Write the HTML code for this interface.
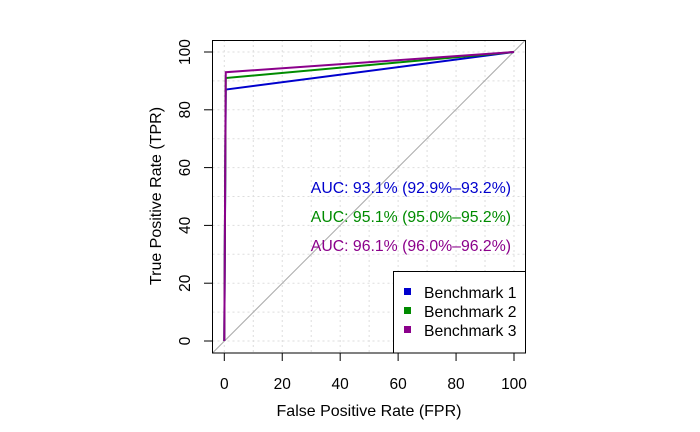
<!DOCTYPE html>
<html><head><meta charset="utf-8"><style>
body{margin:0;background:#fff;}
svg{display:block;font-family:"Liberation Sans",sans-serif;}
</style></head><body>
<svg width="700" height="432" viewBox="0 0 700 432">
<g id="grid"></g>
<line x1="212.5" y1="353" x2="525.5" y2="40" stroke="#aaa" stroke-width="1"/>
<g id="series"></g>
<rect x="212.5" y="40.5" width="313" height="312.5" fill="none" stroke="#000"/>
<g id="axes"></g>
<g id="auc"></g>
<g>
<rect x="393.5" y="271.5" width="132" height="81.5" fill="#fff" stroke="#000"/>
<g id="legend"></g>
</g>
<text x="369" y="416" font-size="16" text-anchor="middle">False Positive Rate (FPR)</text>
<text transform="translate(161,196) rotate(-90)" font-size="16" text-anchor="middle">True Positive Rate (TPR)</text>
</svg>
<script>
const names=["Benchmark 1","Benchmark 2","Benchmark 3"];
const colors=["#0000CD","#008B00","#8B008B"];
const fprs=[[0,0.5,100],[0,0.5,100],[0,0.5,100]];
const tprs=[[0,87,100],[0,91,100],[0,93,100]];
const aucs=["AUC: 93.1% (92.9%–93.2%)","AUC: 95.1% (95.0%–95.2%)","AUC: 96.1% (96.0%–96.2%)"];
const ticks=[0,20,40,60,80,100];
const NS="http://www.w3.org/2000/svg";
const X=v=>224.3+v*2.897, Y=v=>341-v*2.89;
function mk(t,a,p){const e=document.createElementNS(NS,t);for(const k in a)e.setAttribute(k,a[k]);p.appendChild(e);return e;}
const g=document.getElementById('grid');
for(let v=0;v<=100;v+=10){
 let l=mk('line',{x1:X(v),x2:X(v),y1:40,y2:353,stroke:'#ddd','stroke-dasharray':'2,3'},g);
 
 l=mk('line',{x1:212.5,x2:525.5,y1:Y(v),y2:Y(v),stroke:'#ddd','stroke-dasharray':'2,3'},g);
 
}
const s=document.getElementById('series');
names.forEach((n,i)=>{
 const p=mk('polyline',{points:fprs[i].map((f,j)=>X(f)+','+Y(tprs[i][j])).join(' '),fill:'none',stroke:colors[i],'stroke-width':2},s);
 
});
const a=document.getElementById('axes');
ticks.forEach(v=>{
 let l=mk('line',{x1:X(v),x2:X(v),y1:353,y2:361,stroke:'#000'},a);
 
 let t=mk('text',{x:X(v),y:389,'font-size':15.5,'text-anchor':'middle'},a);t.textContent=v;
 
 l=mk('line',{x1:204,x2:212.5,y1:Y(v),y2:Y(v),stroke:'#000'},a);
 
 t=mk('text',{transform:`translate(190,${Y(v)}) rotate(-90)`,'font-size':15.5,'text-anchor':'middle'},a);t.textContent=v;
 
});
const au=document.getElementById('auc');
aucs.forEach((txt,i)=>{
 const t=mk('text',{x:511,y:193+i*29,'font-size':15.8,'text-anchor':'end',fill:colors[i]},au);t.textContent=txt;
 
});
const lg=document.getElementById('legend');
names.forEach((n,i)=>{
 const r=mk('rect',{x:404,y:288+i*19,width:7,height:7,fill:colors[i]},lg);
 
 const t=mk('text',{x:424,y:298+i*19,'font-size':15.7},lg);t.textContent=n;
 
});
</script>
</body></html>
